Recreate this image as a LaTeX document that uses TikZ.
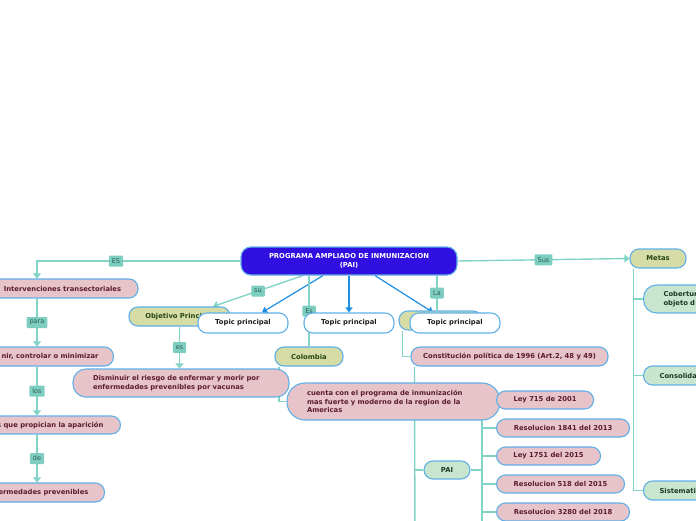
\documentclass[tikz,border=0pt]{standalone}
\usepackage{fontspec}
\setmainfont{DejaVu Sans}
\usetikzlibrary{arrows.meta,calc}
\pgfdeclarelayer{paper}
\pgfdeclarelayer{bg}
\pgfsetlayers{paper,bg,main}
\definecolor{pinkf}{RGB}{231,196,202}
\definecolor{pinkt}{RGB}{92,28,48}
\definecolor{olivef}{RGB}{213,220,166}
\definecolor{olivet}{RGB}{40,70,20}
\definecolor{greenf}{RGB}{200,230,205}
\definecolor{greent}{RGB}{30,55,40}
\definecolor{bord}{RGB}{96,176,232}
\definecolor{connc}{RGB}{130,212,198}
\definecolor{lblf}{RGB}{125,206,192}
\definecolor{lblt}{RGB}{45,90,80}
\definecolor{bluea}{RGB}{30,142,228}
\definecolor{mainf}{RGB}{48,16,224}
\tikzset{
  box/.style={draw=bord, line width=1.1pt, rounded corners=9pt,
    font=\fontsize{6.8}{8.5}\selectfont\bfseries, inner sep=0pt, minimum height=19pt},
  pinkbox/.style={box, fill=pinkf, text=pinkt},
  olivebox/.style={box, fill=olivef, text=olivet},
  greenbox/.style={box, fill=greenf, text=greent},
  topicbox/.style={box, fill=white, text=black!88, minimum height=20pt},
  lbl/.style={fill=lblf, text=lblt, font=\fontsize{6.5}{7}\selectfont,
    inner xsep=3pt, inner ysep=0pt, minimum height=11pt, rounded corners=1pt},
  conn/.style={draw=connc, line width=1.4pt},
  carrow/.style={conn, -{Triangle[width=8pt,length=5pt]}},
  barrow/.style={draw=bluea, line width=1.2pt, -{Triangle[width=7pt,length=5pt]}},
}
\begin{document}
\begin{tikzpicture}[x=1pt,y=-1pt]
\useasboundingbox (0,0) rectangle (696,520);
\clip (0,0) rectangle (696,520);
\begin{pgfonlayer}{paper}
\fill[white] (0,0) rectangle (696,520);
\end{pgfonlayer}

% central node
\node[box, fill=mainf, text=white, minimum width=216pt, minimum height=28pt,
  rounded corners=10pt, align=center] (main) at (349,261)
  {PROGRAMA AMPLIADO DE INMUNIZACION\\(PAI)};

% left column
\node[pinkbox, minimum width=151pt] (interv) at (62.5,288.5) {Intervenciones transectoriales};
\node[pinkbox, anchor=east, inner xsep=15pt] (prev) at (114,356.5) {nir, controlar o minimizar};
\node[pinkbox, anchor=east, inner xsep=17pt, minimum height=18pt] (propic) at (121,425) {s que propician la aparición};
\node[pinkbox, anchor=east, inner xsep=16pt] (enferm) at (105,492.5) {ermedades prevenibles};

% middle
\node[olivebox, minimum width=101pt] (obj) at (179.5,316.5) {Objetivo Principal};
\node[topicbox, minimum width=90pt] (t1) at (243,323) {Topic principal};
\node[topicbox, minimum width=90pt] (t2) at (349,323) {Topic principal};
\node[olivebox, minimum width=83pt] (olv) at (440.5,320.5) {};
\node[topicbox, minimum width=90pt] (t3) at (455,323) {Topic principal};

\node[pinkbox, align=left, text width=176pt, inner xsep=20pt, minimum height=28pt,
  rounded corners=13pt] (dism) at (181,383)
  {Disminuir el riesgo de enfermar y morir por\\enfermedades prevenibles por vacunas};
\node[olivebox, minimum width=68pt] (col) at (309,356.5) {Colombia};
\node[pinkbox, minimum width=197pt] (const) at (509.5,356.5) {Constitución política de 1996 (Art.2, 48 y 49)};
\node[pinkbox, align=left, text width=173pt, inner xsep=20pt, minimum height=37pt,
  rounded corners=18pt] (cuenta) at (393.5,401.5)
  {cuenta con el programa de inmunización\\mas fuerte y moderno de la region de la\\Americas};
\node[greenbox, minimum width=46pt, minimum height=18pt] (pai) at (447,470) {PAI};

% laws
\node[pinkbox, anchor=west, minimum width=97pt, minimum height=18pt] (law1) at (496,400) {Ley 715 de 2001};
\node[pinkbox, anchor=west, minimum width=133pt, minimum height=18pt] (law2) at (496,428) {Resolucion 1841 del 2013};
\node[pinkbox, anchor=west, minimum width=104pt, minimum height=18pt] (law3) at (496,456) {Ley 1751 del 2015};
\node[pinkbox, anchor=west, minimum width=128pt, minimum height=18pt] (law4) at (496,484) {Resolucion 518 del 2015};
\node[pinkbox, anchor=west, minimum width=133pt, minimum height=18pt] (law5) at (496,512) {Resolucion 3280 del 2018};

% right
\node[olivebox, minimum width=56pt] (metas) at (658,258.5) {Metas};
\node[greenbox, anchor=west, align=left, text width=100pt, inner xsep=20pt, minimum height=28pt,
  rounded corners=13pt] (cob) at (643,299) {Cobertur\\objeto d};
\node[greenbox, anchor=west, align=left, text width=100pt, inner xsep=16pt] (cons) at (643,375.5) {Consolida};
\node[greenbox, anchor=west, align=left, text width=100pt, inner xsep=16pt] (sist) at (643,490.5) {Sistemati};

% helper coordinates
\coordinate (lx) at (37,0);
\coordinate (sp) at (482,0);
\coordinate (laX) at ([xshift=-3.5pt]olv.north);
\coordinate (colX) at ([xshift=-30pt]col.south);
\coordinate (olvX) at ([xshift=4pt]olv.south west);
\coordinate (cX) at ([xshift=4pt]const.south west);
\coordinate (mX) at ([xshift=4pt]metas.south west);
\coordinate (offA) at (415,540);
\coordinate (offB) at (482,540);

\begin{pgfonlayer}{bg}
  \draw[carrow] (main.west) -| (interv.north -| lx) node[lbl, pos=0.306] {ES};
  \draw[carrow] (interv.south -| lx) -- (prev.north -| lx) node[lbl, midway] {para};
  \draw[carrow] (prev.south -| lx) -- (propic.north -| lx) node[lbl, midway] {los};
  \draw[carrow] (propic.south -| lx) -- (enferm.north -| lx) node[lbl, midway] {de};

  \draw[carrow] ([xshift=-46pt]main.south) -- ([xshift=33.5pt]obj.north) node[lbl, midway] {su};
  \draw[carrow] (obj.south) -- (obj.south |- dism.north) node[lbl, midway] {es};

  \draw[barrow] ([xshift=-26pt]main.south) -- ([xshift=19pt]t1.north);
  \draw[barrow] (main.south) -- (t2.north);
  \draw[barrow] ([xshift=26pt]main.south) -- ([xshift=-22pt]t3.north);

  \draw[conn] (col.north |- main.south) -- (col.north) node[lbl, midway] {Es};
  \draw[conn] (colX) |- (cuenta.west);
  \draw[conn] (laX |- main.south) -- (laX) node[lbl, midway] {La};
  \draw[conn] (olvX) |- (const.west);
  \draw[conn] (cX) |- (pai.west);
  \draw[conn] (cX) -- (offA);

  \draw[conn] (pai.east) -- (pai.east -| sp) |- (law1.west);
  \draw[conn] (pai.east -| sp) |- (law2.west);
  \draw[conn] (pai.east -| sp) |- (law3.west);
  \draw[conn] (pai.east -| sp) |- (law4.west);
  \draw[conn] (pai.east -| sp) |- (law5.west);
  \draw[conn] (pai.east -| sp) -- (offB);

  \draw[carrow] (main.east) -- (metas.west) node[lbl, midway] {Sus};
  \draw[conn] (mX) |- (cob.west);
  \draw[conn] (mX) |- (cons.west);
  \draw[conn] (mX) |- (sist.west);
\end{pgfonlayer}
\end{tikzpicture}
\end{document}
